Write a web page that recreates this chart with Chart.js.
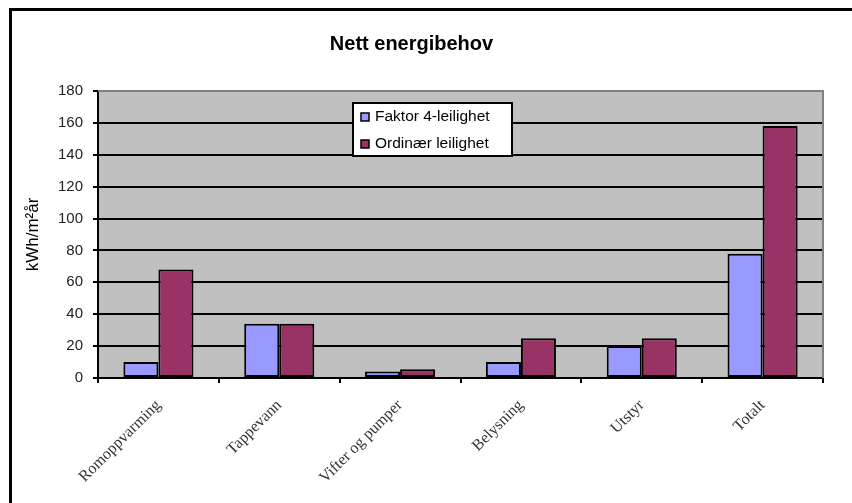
<!DOCTYPE html>
<html>
<head>
<meta charset="utf-8">
<script src="https://cdn.jsdelivr.net/npm/chart.js@4/dist/chart.umd.min.js"></script>
<style>
  html, body { margin: 0; padding: 0; background: #ffffff; }
  #wrap { position: relative; width: 852px; height: 503px; }
</style>
</head>
<body>
<div id="wrap"><canvas id="c" width="852" height="503"></canvas></div>
<script>
// Net energy demand per end use, kWh per m² per year
const categories = ['Romoppvarming', 'Tappevann', 'Vifter og pumper', 'Belysning', 'Utstyr', 'Totalt'];
const seriesNames = ['Faktor 4-leilighet', 'Ordinær leilighet'];
const faktor4 = [10, 34, 4, 10, 20, 78];
const ordinaer = [68, 34, 5.5, 25, 25, 158];
const yTicks = [0, 20, 40, 60, 80, 100, 120, 140, 160, 180];

const chartTitle = 'Nett energibehov';
const yAxisTitle = 'kWh/m²år';

const colors = ['#9999ff', '#993366'];

// Grey plot background, grey top/right plot edge and the outer frame
const backdrop = {
  id: 'backdrop',
  beforeDraw(chart) {
    const { ctx, chartArea: a } = chart;
    ctx.save();
    ctx.fillStyle = '#ffffff';
    ctx.fillRect(0, 0, chart.width, chart.height);
    ctx.strokeStyle = '#000000';
    ctx.lineWidth = 3;
    ctx.strokeRect(10.5, 9.5, chart.width + 20, chart.height + 20);
    ctx.fillStyle = '#c0c0c0';
    ctx.fillRect(a.left, a.top, a.right - a.left, a.bottom - a.top);
    ctx.restore();
  },
  beforeDatasetsDraw(chart) {
    const { ctx, chartArea: a } = chart;
    ctx.save();
    ctx.strokeStyle = '#808080';
    ctx.lineWidth = 2;
    ctx.beginPath();
    ctx.moveTo(a.left, a.top);
    ctx.lineTo(a.right, a.top);
    ctx.lineTo(a.right, a.bottom);
    ctx.stroke();
    ctx.restore();
  }
};

// Boxed legend placed inside the plot area
const boxLegend = {
  id: 'boxLegend',
  afterDraw(chart) {
    const { ctx } = chart;
    const x = 353, y = 103, w = 159, h = 53;
    ctx.save();
    ctx.fillStyle = '#ffffff';
    ctx.fillRect(x, y, w, h);
    ctx.strokeStyle = '#000000';
    ctx.lineWidth = 2;
    ctx.strokeRect(x, y, w, h);
    ctx.font = '15.5px "Liberation Sans", Arial, sans-serif';
    ctx.textBaseline = 'middle';
    chart.data.datasets.forEach((ds, i) => {
      const cy = y + 14 + i * 27;
      ctx.fillStyle = ds.backgroundColor;
      ctx.fillRect(x + 8, cy - 4, 8, 8);
      ctx.lineWidth = 1.5;
      ctx.strokeStyle = '#000000';
      ctx.strokeRect(x + 8, cy - 4, 8, 8);
      ctx.fillStyle = '#000000';
      ctx.fillText(ds.label, x + 22, cy);
    });
    ctx.restore();
  }
};

new Chart(document.getElementById('c'), {
  type: 'bar',
  data: {
    labels: categories,
    datasets: [
      { label: seriesNames[0], data: faktor4, backgroundColor: colors[0] },
      { label: seriesNames[1], data: ordinaer, backgroundColor: colors[1] }
    ]
  },
  options: {
    responsive: false,
    animation: false,
    devicePixelRatio: 1,
    layout: { padding: { left: 0, right: 29, top: 0, bottom: 0 } },
    datasets: {
      bar: {
        borderColor: '#000000',
        borderWidth: 2,
        borderSkipped: false,
        barPercentage: 1,
        categoryPercentage: 0.58
      }
    },
    plugins: {
      legend: { display: false },
      tooltip: { enabled: false },
      title: {
        display: true,
        text: chartTitle,
        color: '#000000',
        font: { family: '"Liberation Sans", Arial, sans-serif', size: 20, weight: 'bold' },
        padding: { top: 32, bottom: 35 }
      }
    },
    scales: {
      x: {
        afterFit(s) { s.height = 125; },
        grid: {
          offset: true,
          drawOnChartArea: false,
          drawTicks: true,
          tickLength: 5,
          color: '#000000',
          lineWidth: 2
        },
        border: { color: '#000000', width: 2 },
        ticks: {
          autoSkip: false,
          maxRotation: 45,
          minRotation: 45,
          padding: 13,
          color: '#333333',
          font: { family: '"Liberation Serif", "Times New Roman", serif', size: 16 }
        }
      },
      y: {
        min: 0,
        max: 180,
        afterFit(s) { s.width = 98; },
        afterBuildTicks(s) { s.ticks = yTicks.map(v => ({ value: v })); },
        grid: {
          color: '#000000',
          lineWidth: 2,
          tickLength: 5
        },
        border: { color: '#000000', width: 2 },
        ticks: {
          padding: 10,
          color: '#222222',
          font: { family: '"Liberation Sans", Arial, sans-serif', size: 15 }
        },
        title: {
          display: true,
          text: yAxisTitle,
          color: '#000000',
          padding: { top: 23, bottom: 0 },
          font: { family: '"Liberation Sans", Arial, sans-serif', size: 17 }
        }
      }
    }
  },
  plugins: [backdrop, boxLegend]
});
</script>
</body>
</html>
